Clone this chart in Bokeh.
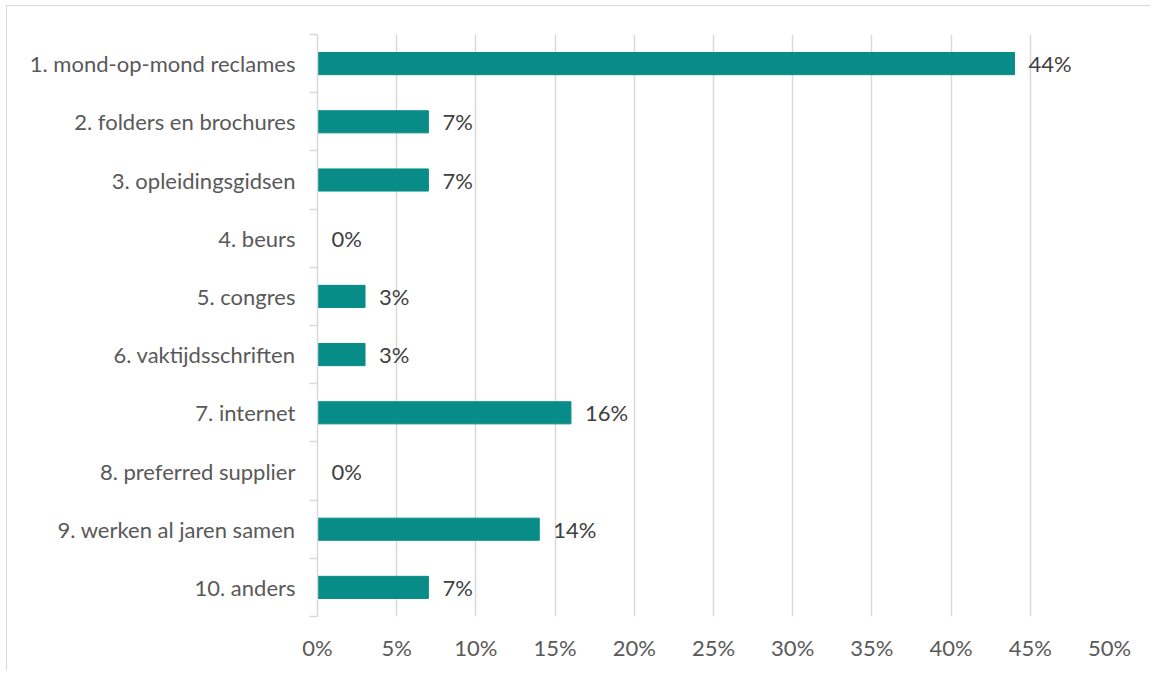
from bokeh.plotting import figure
from bokeh.models import Range1d, FixedTicker, LabelSet, ColumnDataSource, NumeralTickFormatter
from bokeh.core.properties import value
from bokeh.embed import file_html
from bokeh.resources import INLINE

categories = ["1. mond-op-mond reclames", "2. folders en brochures", "3. opleidingsgidsen",
              "4. beurs", "5. congres", "6. vaktijdsschriften", "7. internet",
              "8. preferred supplier", "9. werken al jaren samen", "10. anders"]
values = [44, 7, 7, 0, 3, 3, 16, 0, 14, 7]
x_ticks = [0, 5, 10, 15, 20, 25, 30, 35, 40, 45, 50]

FONT = "Lato"
FS = "22px"
LABEL_COLOR = "#595959"

n = len(categories)
ypos = [i + 0.5 for i in range(n)]
src = ColumnDataSource(dict(y=ypos, v=[v / 100 for v in values],
                            lab=[f"{v}%" for v in values]))

p = figure(width=1144, height=665, output_backend="svg", toolbar_location=None,
           x_range=Range1d(0, 0.5), y_range=Range1d(n, 0),
           min_border_left=310, min_border_right=42, min_border_top=28, min_border_bottom=55)
p.styles = {"border-left": "1px solid #d9d9d9", "border-top": "1px solid #d9d9d9",
            "margin-left": "6px", "margin-top": "5px"}
p.outline_line_color = None
p.background_fill_color = "white"

p.hbar(y="y", right="v", left=0, height=0.38, source=src, color="#088c87")

labels = LabelSet(x="v", y="y", text="lab", source=src, x_offset=14,
                  text_baseline="middle", text_font=value(FONT), text_font_size=FS,
                  text_color="#404040")
p.add_layout(labels)

# x axis
p.xaxis.ticker = FixedTicker(ticks=[t / 100 for t in x_ticks])
p.xaxis.formatter = NumeralTickFormatter(format="0%")
p.xaxis.axis_line_color = None
p.xaxis.major_tick_line_color = None
p.xaxis.minor_tick_line_color = None
p.xaxis.major_tick_out = 0
p.xaxis.major_label_standoff = 17
p.xaxis.major_label_text_font = FONT
p.xaxis.major_label_text_font_size = FS
p.xaxis.major_label_text_color = LABEL_COLOR

# y axis
p.yaxis.ticker = FixedTicker(ticks=ypos, minor_ticks=list(range(n + 1)))
p.yaxis.major_label_overrides = {y: c for y, c in zip(ypos, categories)}
p.yaxis.axis_line_color = "#d9d9d9"
p.yaxis.axis_line_width = 1.5
p.yaxis.major_tick_line_color = None
p.yaxis.minor_tick_line_color = "#d9d9d9"
p.yaxis.minor_tick_line_width = 1.5
p.yaxis.minor_tick_out = 8
p.yaxis.minor_tick_in = 0
p.yaxis.major_tick_out = 0
p.yaxis.major_label_standoff = 14
p.yaxis.major_label_text_font = FONT
p.yaxis.major_label_text_font_size = FS
p.yaxis.major_label_text_color = LABEL_COLOR

p.xgrid.ticker = FixedTicker(ticks=[t / 100 for t in x_ticks])
p.xgrid.grid_line_color = "#d9d9d9"
p.xgrid.grid_line_width = 1.5
p.ygrid.grid_line_color = None

open("out.html", "w").write(file_html(p, INLINE))
